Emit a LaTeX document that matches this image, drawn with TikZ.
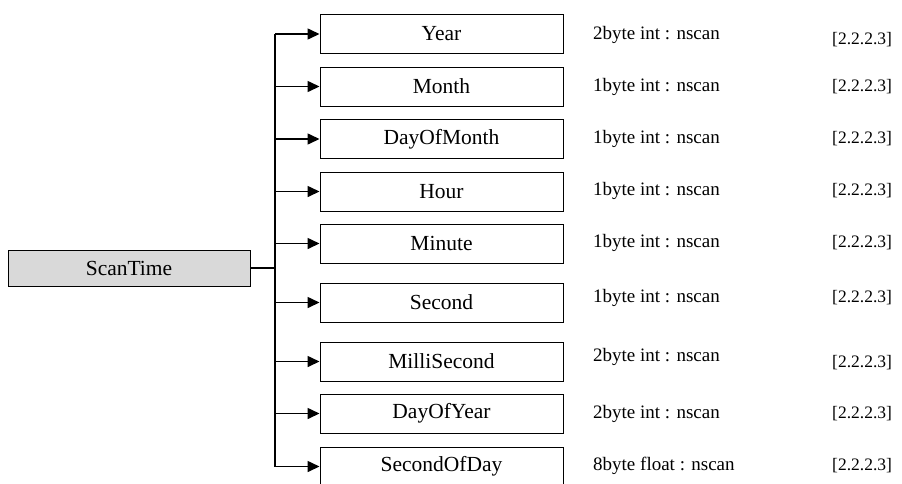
\documentclass[tikz,border=0pt]{standalone}
\usepackage{fontspec}
\setmainfont{Liberation Serif}
\usetikzlibrary{arrows.meta}
\begin{document}
\begin{tikzpicture}[x=1pt,y=-1pt,
  field/.style={draw=black,line width=1pt,minimum width=243pt,minimum height=39pt,inner sep=0pt,font=\fontsize{21.5}{24}\selectfont},
  root/.style={draw=black,line width=1pt,fill=black!15,minimum width=242pt,minimum height=36pt,inner sep=0pt,font=\fontsize{21.5}{24}\selectfont},
  typ/.style={anchor=west,inner sep=0pt,font=\fontsize{19}{22}\selectfont},
  ref/.style={anchor=west,inner sep=0pt,font=\fontsize{17.5}{20}\selectfont},
  conn/.style={line width=1.6pt},
  arr/.style={line width=1.6pt,-{Triangle[length=12pt,width=11pt]}}]
\useasboundingbox (0,0) rectangle (902,483);
\node[root] (scan) at (129,268) {ScanTime};
\coordinate (bus) at (275,268);
\node[field] (year) at (441.5,34) {Year};
\node[field] (month) at (441.5,86.5) {Month};
\node[field] (dom) at (441.5,139) {DayOfMonth};
\node[field] (hour) at (441.5,191.5) {Hour};
\node[field] (minute) at (441.5,243.5) {Minute};
\node[field] (second) at (441.5,302.5) {Second};
\node[field] (milli) at (441.5,361.5) {MilliSecond};
\node[field] (doy) at (441.5,413.5) {DayOfYear};
\node[field] (sod) at (441.5,466.5) {SecondOfDay};
\node[typ] (t1) at (593,35) {2byte int : nscan};
\node[typ] (t2) at (593,87) {1byte int : nscan};
\node[typ] (t3) at (593,139) {1byte int : nscan};
\node[typ] (t4) at (593,191) {1byte int : nscan};
\node[typ] (t5) at (593,243) {1byte int : nscan};
\node[typ] (t6) at (593,298) {1byte int : nscan};
\node[typ] (t7) at (593,357) {2byte int : nscan};
\node[typ] (t8) at (593,414) {2byte int : nscan};
\node[typ] (t9) at (593,466) {8byte float : nscan};
\node[ref] (r1) at (832,40) {[2.2.2.3]};
\node[ref] (r2) at (832,87) {[2.2.2.3]};
\node[ref] (r3) at (832,139) {[2.2.2.3]};
\node[ref] (r4) at (832,191) {[2.2.2.3]};
\node[ref] (r5) at (832,243) {[2.2.2.3]};
\node[ref] (r6) at (832,298) {[2.2.2.3]};
\node[ref] (r7) at (832,363) {[2.2.2.3]};
\node[ref] (r8) at (832,414) {[2.2.2.3]};
\node[ref] (r9) at (832,466) {[2.2.2.3]};
\draw[conn] (scan.east) -- (bus);
\draw[conn] (bus |- year.west) -- (bus |- sod.west);
\foreach \n in {year,month,dom,hour,minute,second,milli,doy,sod}
  \draw[arr] (bus |- \n.west) -- (\n.west);
\end{tikzpicture}
\end{document}
